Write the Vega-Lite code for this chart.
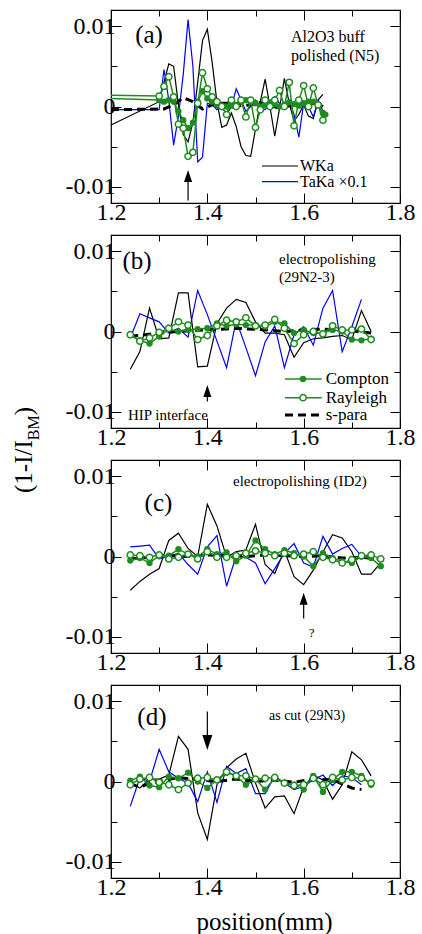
{
"$schema":"https://vega.github.io/schema/vega-lite/v6.json",
"autosize":{"type":"none"},
"padding":{"left":111,"top":10,"right":311,"bottom":924},
"bounds":"flush",
"spacing":32,
"config":{"view":{"stroke":"black","strokeWidth":1.2},"font":"Liberation Serif","style":{"guide-label":{"font":"Liberation Serif","fill":"black"},"guide-title":{"font":"Liberation Serif","fill":"black"}},"axis":{"labelFont":"Liberation Serif","labelFontSize":24,"labelColor":"black","tickColor":"black","tickWidth":1,"domain":false,"grid":false,"titleFont":"Liberation Serif","titleColor":"black","titleFontWeight":"normal"},"text":{"font":"Liberation Serif","color":"black"}},
"datasets":{"pts":[
{"p":"a","s":"W","x":1.20,"y":-0.0023},{"p":"a","s":"W","x":1.30,"y":0.0006},{"p":"a","s":"W","x":1.31,"y":0.003},{"p":"a","s":"W","x":1.32,"y":0.0053},{"p":"a","s":"W","x":1.33,"y":0.005},{"p":"a","s":"W","x":1.34,"y":0.0002},{"p":"a","s":"W","x":1.35,"y":-0.0035},{"p":"a","s":"W","x":1.36,"y":-0.0044},{"p":"a","s":"W","x":1.37,"y":-0.002},{"p":"a","s":"W","x":1.38,"y":0.003},{"p":"a","s":"W","x":1.39,"y":0.0082},{"p":"a","s":"W","x":1.40,"y":0.0096},{"p":"a","s":"W","x":1.41,"y":0.0055},{"p":"a","s":"W","x":1.42,"y":0.0005},{"p":"a","s":"W","x":1.43,"y":-0.0026},{"p":"a","s":"W","x":1.44,"y":-0.0023},{"p":"a","s":"W","x":1.45,"y":-0.0008},{"p":"a","s":"W","x":1.46,"y":-0.0025},{"p":"a","s":"W","x":1.47,"y":-0.005},{"p":"a","s":"W","x":1.48,"y":-0.0061},{"p":"a","s":"W","x":1.49,"y":-0.0062},{"p":"a","s":"W","x":1.50,"y":-0.0028},{"p":"a","s":"W","x":1.51,"y":0.0006},{"p":"a","s":"W","x":1.52,"y":0.0034},{"p":"a","s":"W","x":1.53,"y":0.0},{"p":"a","s":"W","x":1.54,"y":-0.0037},{"p":"a","s":"W","x":1.55,"y":-0.0002},{"p":"a","s":"W","x":1.56,"y":0.0035},{"p":"a","s":"W","x":1.57,"y":0.0004},{"p":"a","s":"W","x":1.58,"y":-0.0018},{"p":"a","s":"W","x":1.59,"y":-0.001},{"p":"a","s":"W","x":1.60,"y":0.0002},{"p":"a","s":"W","x":1.61,"y":-0.0012},{"p":"a","s":"W","x":1.62,"y":-0.0015},{"p":"a","s":"W","x":1.63,"y":0.0008},{"p":"a","s":"W","x":1.64,"y":0.0015},
{"p":"a","s":"T","x":1.20,"y":-0.0004},{"p":"a","s":"T","x":1.30,"y":-0.0004},{"p":"a","s":"T","x":1.31,"y":0.0046},{"p":"a","s":"T","x":1.32,"y":0.0008},{"p":"a","s":"T","x":1.33,"y":-0.0048},{"p":"a","s":"T","x":1.34,"y":-0.0012},{"p":"a","s":"T","x":1.35,"y":0.004},{"p":"a","s":"T","x":1.36,"y":0.0108},{"p":"a","s":"T","x":1.37,"y":0.005},{"p":"a","s":"T","x":1.38,"y":-0.0069},{"p":"a","s":"T","x":1.39,"y":-0.0063},{"p":"a","s":"T","x":1.40,"y":0.0004},{"p":"a","s":"T","x":1.41,"y":0.0002},{"p":"a","s":"T","x":1.42,"y":-0.0004},{"p":"a","s":"T","x":1.43,"y":0.0},{"p":"a","s":"T","x":1.44,"y":-0.001},{"p":"a","s":"T","x":1.45,"y":0.0},{"p":"a","s":"T","x":1.46,"y":0.0022},{"p":"a","s":"T","x":1.47,"y":0.0008},{"p":"a","s":"T","x":1.48,"y":-0.0006},{"p":"a","s":"T","x":1.49,"y":0.0},{"p":"a","s":"T","x":1.50,"y":0.0008},{"p":"a","s":"T","x":1.51,"y":0.0},{"p":"a","s":"T","x":1.52,"y":-0.0004},{"p":"a","s":"T","x":1.53,"y":0.0004},{"p":"a","s":"T","x":1.54,"y":0.0012},{"p":"a","s":"T","x":1.55,"y":0.0004},{"p":"a","s":"T","x":1.56,"y":0.0},{"p":"a","s":"T","x":1.57,"y":0.0008},{"p":"a","s":"T","x":1.58,"y":-0.001},{"p":"a","s":"T","x":1.59,"y":-0.0038},{"p":"a","s":"T","x":1.60,"y":0.0004},{"p":"a","s":"T","x":1.61,"y":0.0},{"p":"a","s":"T","x":1.62,"y":-0.0013},{"p":"a","s":"T","x":1.63,"y":0.0008},{"p":"a","s":"T","x":1.64,"y":-0.0006},
{"p":"a","s":"C","x":1.20,"y":0.001},{"p":"a","s":"C","x":1.30,"y":0.0008},{"p":"a","s":"C","x":1.31,"y":0.0006},{"p":"a","s":"C","x":1.32,"y":0.0008},{"p":"a","s":"C","x":1.33,"y":0.0006},{"p":"a","s":"C","x":1.34,"y":-0.0006},{"p":"a","s":"C","x":1.35,"y":-0.0017},{"p":"a","s":"C","x":1.36,"y":-0.0027},{"p":"a","s":"C","x":1.37,"y":-0.002},{"p":"a","s":"C","x":1.38,"y":0.0006},{"p":"a","s":"C","x":1.39,"y":0.0019},{"p":"a","s":"C","x":1.40,"y":0.001},{"p":"a","s":"C","x":1.41,"y":0.0006},{"p":"a","s":"C","x":1.42,"y":0.0002},{"p":"a","s":"C","x":1.43,"y":0.0},{"p":"a","s":"C","x":1.44,"y":0.0},{"p":"a","s":"C","x":1.45,"y":0.0001},{"p":"a","s":"C","x":1.46,"y":0.0002},{"p":"a","s":"C","x":1.47,"y":0.0006},{"p":"a","s":"C","x":1.48,"y":0.0008},{"p":"a","s":"C","x":1.49,"y":0.0006},{"p":"a","s":"C","x":1.50,"y":0.0004},{"p":"a","s":"C","x":1.51,"y":0.0},{"p":"a","s":"C","x":1.52,"y":0.0002},{"p":"a","s":"C","x":1.53,"y":0.0005},{"p":"a","s":"C","x":1.54,"y":0.0003},{"p":"a","s":"C","x":1.55,"y":0.0},{"p":"a","s":"C","x":1.56,"y":0.0002},{"p":"a","s":"C","x":1.57,"y":0.0005},{"p":"a","s":"C","x":1.58,"y":0.0003},{"p":"a","s":"C","x":1.59,"y":0.0001},{"p":"a","s":"C","x":1.60,"y":0.0004},{"p":"a","s":"C","x":1.61,"y":0.0006},{"p":"a","s":"C","x":1.62,"y":0.0006},{"p":"a","s":"C","x":1.63,"y":0.0002},{"p":"a","s":"C","x":1.64,"y":-0.0008},{"p":"a","s":"C","x":1.645,"y":-0.001},
{"p":"a","s":"R","x":1.20,"y":0.0014},{"p":"a","s":"R","x":1.30,"y":0.0013},{"p":"a","s":"R","x":1.31,"y":0.0025},{"p":"a","s":"R","x":1.32,"y":0.0037},{"p":"a","s":"R","x":1.33,"y":0.0012},{"p":"a","s":"R","x":1.34,"y":-0.0022},{"p":"a","s":"R","x":1.35,"y":-0.0027},{"p":"a","s":"R","x":1.36,"y":-0.0062},{"p":"a","s":"R","x":1.37,"y":-0.0057},{"p":"a","s":"R","x":1.38,"y":0.0004},{"p":"a","s":"R","x":1.39,"y":0.0042},{"p":"a","s":"R","x":1.40,"y":0.0022},{"p":"a","s":"R","x":1.41,"y":0.0012},{"p":"a","s":"R","x":1.42,"y":0.0006},{"p":"a","s":"R","x":1.43,"y":0.0},{"p":"a","s":"R","x":1.44,"y":-0.001},{"p":"a","s":"R","x":1.45,"y":0.0008},{"p":"a","s":"R","x":1.46,"y":0.0},{"p":"a","s":"R","x":1.47,"y":0.0008},{"p":"a","s":"R","x":1.48,"y":-0.0013},{"p":"a","s":"R","x":1.49,"y":0.0008},{"p":"a","s":"R","x":1.50,"y":-0.0026},{"p":"a","s":"R","x":1.51,"y":-0.0004},{"p":"a","s":"R","x":1.52,"y":0.0008},{"p":"a","s":"R","x":1.53,"y":0.0},{"p":"a","s":"R","x":1.54,"y":0.0008},{"p":"a","s":"R","x":1.55,"y":0.002},{"p":"a","s":"R","x":1.56,"y":0.0},{"p":"a","s":"R","x":1.57,"y":0.003},{"p":"a","s":"R","x":1.58,"y":-0.0024},{"p":"a","s":"R","x":1.59,"y":0.0008},{"p":"a","s":"R","x":1.60,"y":0.0026},{"p":"a","s":"R","x":1.61,"y":0.0},{"p":"a","s":"R","x":1.62,"y":0.0023},{"p":"a","s":"R","x":1.63,"y":0.0002},{"p":"a","s":"R","x":1.64,"y":-0.0017},
{"p":"a","s":"S","x":1.20,"y":-0.0004},{"p":"a","s":"S","x":1.31,"y":-0.0003},{"p":"a","s":"S","x":1.33,"y":0.0002},{"p":"a","s":"S","x":1.35,"y":0.0011},{"p":"a","s":"S","x":1.37,"y":0.0006},{"p":"a","s":"S","x":1.39,"y":-0.0003},{"p":"a","s":"S","x":1.41,"y":0.0002},{"p":"a","s":"S","x":1.43,"y":0.0004},{"p":"a","s":"S","x":1.45,"y":0.0004},{"p":"a","s":"S","x":1.47,"y":0.0001},{"p":"a","s":"S","x":1.49,"y":0.0002},{"p":"a","s":"S","x":1.51,"y":0.0005},{"p":"a","s":"S","x":1.53,"y":0.0001},{"p":"a","s":"S","x":1.55,"y":-0.0002},{"p":"a","s":"S","x":1.57,"y":0.0001},{"p":"a","s":"S","x":1.59,"y":0.0004},{"p":"a","s":"S","x":1.61,"y":0.0003},{"p":"a","s":"S","x":1.63,"y":0.0004},{"p":"a","s":"S","x":1.64,"y":0.0},
{"p":"b","s":"W","x":1.24,"y":-0.0047},{"p":"b","s":"W","x":1.26,"y":-0.0025},{"p":"b","s":"W","x":1.28,"y":0.0029},{"p":"b","s":"W","x":1.30,"y":-0.0009},{"p":"b","s":"W","x":1.32,"y":-0.0008},{"p":"b","s":"W","x":1.34,"y":0.0048},{"p":"b","s":"W","x":1.36,"y":0.0048},{"p":"b","s":"W","x":1.38,"y":-0.0044},{"p":"b","s":"W","x":1.40,"y":-0.0043},{"p":"b","s":"W","x":1.42,"y":0.001},{"p":"b","s":"W","x":1.44,"y":0.0029},{"p":"b","s":"W","x":1.46,"y":0.004},{"p":"b","s":"W","x":1.48,"y":0.0036},{"p":"b","s":"W","x":1.50,"y":0.0012},{"p":"b","s":"W","x":1.52,"y":-0.0002},{"p":"b","s":"W","x":1.54,"y":-0.0002},{"p":"b","s":"W","x":1.56,"y":-0.0004},{"p":"b","s":"W","x":1.58,"y":-0.0032},{"p":"b","s":"W","x":1.60,"y":-0.0014},{"p":"b","s":"W","x":1.62,"y":-0.0009},{"p":"b","s":"W","x":1.64,"y":-0.0008},{"p":"b","s":"W","x":1.66,"y":-0.0006},{"p":"b","s":"W","x":1.68,"y":-0.0005},{"p":"b","s":"W","x":1.70,"y":-0.001},{"p":"b","s":"W","x":1.72,"y":0.0026},{"p":"b","s":"W","x":1.74,"y":0.0},
{"p":"b","s":"T","x":1.24,"y":-0.0008},{"p":"b","s":"T","x":1.26,"y":0.0022},{"p":"b","s":"T","x":1.28,"y":0.0017},{"p":"b","s":"T","x":1.30,"y":0.0012},{"p":"b","s":"T","x":1.32,"y":-0.0002},{"p":"b","s":"T","x":1.34,"y":0.0004},{"p":"b","s":"T","x":1.36,"y":-0.0007},{"p":"b","s":"T","x":1.38,"y":0.0051},{"p":"b","s":"T","x":1.40,"y":0.0021},{"p":"b","s":"T","x":1.42,"y":-0.0012},{"p":"b","s":"T","x":1.44,"y":-0.0045},{"p":"b","s":"T","x":1.46,"y":0.0014},{"p":"b","s":"T","x":1.48,"y":-0.002},{"p":"b","s":"T","x":1.50,"y":-0.0055},{"p":"b","s":"T","x":1.52,"y":-0.0013},{"p":"b","s":"T","x":1.54,"y":0.0007},{"p":"b","s":"T","x":1.56,"y":-0.0045},{"p":"b","s":"T","x":1.58,"y":-0.0004},{"p":"b","s":"T","x":1.60,"y":0.0006},{"p":"b","s":"T","x":1.62,"y":-0.0017},{"p":"b","s":"T","x":1.64,"y":0.0029},{"p":"b","s":"T","x":1.66,"y":0.0051},{"p":"b","s":"T","x":1.68,"y":-0.0025},{"p":"b","s":"T","x":1.70,"y":0.0006},{"p":"b","s":"T","x":1.72,"y":0.004},
{"p":"b","s":"C","x":1.24,"y":-0.0004},{"p":"b","s":"C","x":1.26,"y":-0.0011},{"p":"b","s":"C","x":1.28,"y":-0.0015},{"p":"b","s":"C","x":1.30,"y":-0.0006},{"p":"b","s":"C","x":1.32,"y":0.0003},{"p":"b","s":"C","x":1.34,"y":0.0},{"p":"b","s":"C","x":1.36,"y":0.0002},{"p":"b","s":"C","x":1.38,"y":0.0003},{"p":"b","s":"C","x":1.40,"y":0.0004},{"p":"b","s":"C","x":1.42,"y":0.001},{"p":"b","s":"C","x":1.44,"y":0.0007},{"p":"b","s":"C","x":1.46,"y":0.0009},{"p":"b","s":"C","x":1.48,"y":0.0008},{"p":"b","s":"C","x":1.50,"y":0.0008},{"p":"b","s":"C","x":1.52,"y":0.0006},{"p":"b","s":"C","x":1.54,"y":0.0012},{"p":"b","s":"C","x":1.56,"y":0.001},{"p":"b","s":"C","x":1.58,"y":-0.0002},{"p":"b","s":"C","x":1.60,"y":0.0002},{"p":"b","s":"C","x":1.62,"y":-0.0002},{"p":"b","s":"C","x":1.64,"y":-0.0002},{"p":"b","s":"C","x":1.66,"y":0.0002},{"p":"b","s":"C","x":1.68,"y":0.0},{"p":"b","s":"C","x":1.70,"y":-0.001},{"p":"b","s":"C","x":1.72,"y":-0.0011},{"p":"b","s":"C","x":1.74,"y":-0.0009},
{"p":"b","s":"R","x":1.24,"y":-0.0004},{"p":"b","s":"R","x":1.26,"y":-0.0012},{"p":"b","s":"R","x":1.28,"y":-0.0008},{"p":"b","s":"R","x":1.30,"y":-0.0001},{"p":"b","s":"R","x":1.32,"y":0.0004},{"p":"b","s":"R","x":1.34,"y":0.0012},{"p":"b","s":"R","x":1.36,"y":0.0008},{"p":"b","s":"R","x":1.38,"y":-0.001},{"p":"b","s":"R","x":1.40,"y":-0.0005},{"p":"b","s":"R","x":1.42,"y":0.0007},{"p":"b","s":"R","x":1.44,"y":0.0014},{"p":"b","s":"R","x":1.46,"y":0.0012},{"p":"b","s":"R","x":1.48,"y":0.0017},{"p":"b","s":"R","x":1.50,"y":0.0007},{"p":"b","s":"R","x":1.52,"y":0.0008},{"p":"b","s":"R","x":1.54,"y":0.0015},{"p":"b","s":"R","x":1.56,"y":0.0004},{"p":"b","s":"R","x":1.58,"y":-0.0015},{"p":"b","s":"R","x":1.60,"y":-0.0004},{"p":"b","s":"R","x":1.62,"y":0.0},{"p":"b","s":"R","x":1.64,"y":-0.0003},{"p":"b","s":"R","x":1.66,"y":0.0007},{"p":"b","s":"R","x":1.68,"y":0.0002},{"p":"b","s":"R","x":1.70,"y":0.0002},{"p":"b","s":"R","x":1.72,"y":0.0003},{"p":"b","s":"R","x":1.74,"y":-0.001},
{"p":"b","s":"S","x":1.24,"y":-0.0006},{"p":"b","s":"S","x":1.30,"y":-0.0002},{"p":"b","s":"S","x":1.36,"y":0.0001},{"p":"b","s":"S","x":1.40,"y":0.0002},{"p":"b","s":"S","x":1.46,"y":0.0004},{"p":"b","s":"S","x":1.52,"y":0.0002},{"p":"b","s":"S","x":1.56,"y":0.0},{"p":"b","s":"S","x":1.60,"y":0.0002},{"p":"b","s":"S","x":1.64,"y":0.0003},{"p":"b","s":"S","x":1.68,"y":0.0002},{"p":"b","s":"S","x":1.74,"y":-0.0002},
{"p":"c","s":"W","x":1.24,"y":-0.0042},{"p":"c","s":"W","x":1.26,"y":-0.0031},{"p":"c","s":"W","x":1.28,"y":-0.0022},{"p":"c","s":"W","x":1.30,"y":-0.0015},{"p":"c","s":"W","x":1.32,"y":0.002},{"p":"c","s":"W","x":1.34,"y":0.0029},{"p":"c","s":"W","x":1.36,"y":0.001},{"p":"c","s":"W","x":1.38,"y":0.0},{"p":"c","s":"W","x":1.40,"y":0.0065},{"p":"c","s":"W","x":1.42,"y":0.0038},{"p":"c","s":"W","x":1.44,"y":-0.0001},{"p":"c","s":"W","x":1.46,"y":0.0006},{"p":"c","s":"W","x":1.48,"y":0.0008},{"p":"c","s":"W","x":1.50,"y":0.004},{"p":"c","s":"W","x":1.52,"y":-0.001},{"p":"c","s":"W","x":1.54,"y":-0.0021},{"p":"c","s":"W","x":1.56,"y":0.0008},{"p":"c","s":"W","x":1.58,"y":-0.0025},{"p":"c","s":"W","x":1.60,"y":-0.0035},{"p":"c","s":"W","x":1.62,"y":-0.0017},{"p":"c","s":"W","x":1.64,"y":0.0006},{"p":"c","s":"W","x":1.66,"y":0.0027},{"p":"c","s":"W","x":1.68,"y":0.0023},{"p":"c","s":"W","x":1.70,"y":0.0006},{"p":"c","s":"W","x":1.72,"y":-0.0022},{"p":"c","s":"W","x":1.74,"y":-0.0022},{"p":"c","s":"W","x":1.76,"y":-0.0008},
{"p":"c","s":"T","x":1.24,"y":0.0012},{"p":"c","s":"T","x":1.26,"y":0.0013},{"p":"c","s":"T","x":1.28,"y":0.0014},{"p":"c","s":"T","x":1.30,"y":-0.0003},{"p":"c","s":"T","x":1.32,"y":0.0},{"p":"c","s":"T","x":1.34,"y":0.0004},{"p":"c","s":"T","x":1.36,"y":-0.001},{"p":"c","s":"T","x":1.38,"y":-0.0022},{"p":"c","s":"T","x":1.40,"y":0.0012},{"p":"c","s":"T","x":1.42,"y":0.0026},{"p":"c","s":"T","x":1.44,"y":-0.0037},{"p":"c","s":"T","x":1.46,"y":0.0001},{"p":"c","s":"T","x":1.48,"y":-0.0001},{"p":"c","s":"T","x":1.50,"y":-0.0008},{"p":"c","s":"T","x":1.52,"y":-0.0034},{"p":"c","s":"T","x":1.54,"y":-0.0015},{"p":"c","s":"T","x":1.56,"y":0.0004},{"p":"c","s":"T","x":1.58,"y":0.0016},{"p":"c","s":"T","x":1.60,"y":-0.0008},{"p":"c","s":"T","x":1.62,"y":-0.0013},{"p":"c","s":"T","x":1.64,"y":0.0025},{"p":"c","s":"T","x":1.66,"y":0.0003},{"p":"c","s":"T","x":1.68,"y":0.001},{"p":"c","s":"T","x":1.70,"y":0.0015},{"p":"c","s":"T","x":1.72,"y":0.0},
{"p":"c","s":"C","x":1.24,"y":-0.0005},{"p":"c","s":"C","x":1.26,"y":-0.0002},{"p":"c","s":"C","x":1.28,"y":-0.0008},{"p":"c","s":"C","x":1.30,"y":0.0001},{"p":"c","s":"C","x":1.32,"y":0.0001},{"p":"c","s":"C","x":1.34,"y":0.0009},{"p":"c","s":"C","x":1.36,"y":0.0003},{"p":"c","s":"C","x":1.38,"y":0.0},{"p":"c","s":"C","x":1.40,"y":0.0009},{"p":"c","s":"C","x":1.42,"y":0.0003},{"p":"c","s":"C","x":1.44,"y":0.0005},{"p":"c","s":"C","x":1.46,"y":-0.0006},{"p":"c","s":"C","x":1.48,"y":0.0001},{"p":"c","s":"C","x":1.50,"y":0.002},{"p":"c","s":"C","x":1.52,"y":0.0009},{"p":"c","s":"C","x":1.54,"y":0.0003},{"p":"c","s":"C","x":1.56,"y":0.0008},{"p":"c","s":"C","x":1.58,"y":0.0004},{"p":"c","s":"C","x":1.60,"y":0.0},{"p":"c","s":"C","x":1.62,"y":-0.0012},{"p":"c","s":"C","x":1.64,"y":0.0004},{"p":"c","s":"C","x":1.66,"y":-0.0002},{"p":"c","s":"C","x":1.68,"y":-0.0006},{"p":"c","s":"C","x":1.70,"y":-0.0008},{"p":"c","s":"C","x":1.72,"y":0.0},{"p":"c","s":"C","x":1.74,"y":-0.0002},{"p":"c","s":"C","x":1.76,"y":-0.0012},
{"p":"c","s":"R","x":1.24,"y":0.0002},{"p":"c","s":"R","x":1.26,"y":0.0001},{"p":"c","s":"R","x":1.28,"y":-0.0001},{"p":"c","s":"R","x":1.30,"y":0.0002},{"p":"c","s":"R","x":1.32,"y":-0.0003},{"p":"c","s":"R","x":1.34,"y":-0.0001},{"p":"c","s":"R","x":1.36,"y":0.0003},{"p":"c","s":"R","x":1.38,"y":-0.0003},{"p":"c","s":"R","x":1.40,"y":0.0006},{"p":"c","s":"R","x":1.42,"y":-0.0001},{"p":"c","s":"R","x":1.44,"y":-0.0001},{"p":"c","s":"R","x":1.46,"y":0.0001},{"p":"c","s":"R","x":1.48,"y":0.0004},{"p":"c","s":"R","x":1.50,"y":0.0007},{"p":"c","s":"R","x":1.52,"y":0.0004},{"p":"c","s":"R","x":1.54,"y":0.0001},{"p":"c","s":"R","x":1.56,"y":0.0004},{"p":"c","s":"R","x":1.58,"y":0.0001},{"p":"c","s":"R","x":1.60,"y":0.0003},{"p":"c","s":"R","x":1.62,"y":0.0006},{"p":"c","s":"R","x":1.64,"y":-0.0001},{"p":"c","s":"R","x":1.66,"y":-0.0004},{"p":"c","s":"R","x":1.68,"y":-0.0008},{"p":"c","s":"R","x":1.70,"y":-0.0004},{"p":"c","s":"R","x":1.72,"y":0.0001},{"p":"c","s":"R","x":1.74,"y":0.0002},{"p":"c","s":"R","x":1.76,"y":-0.0003},
{"p":"c","s":"S","x":1.24,"y":-0.0003},{"p":"c","s":"S","x":1.28,"y":-0.0001},{"p":"c","s":"S","x":1.32,"y":0.0001},{"p":"c","s":"S","x":1.36,"y":0.0},{"p":"c","s":"S","x":1.40,"y":0.0002},{"p":"c","s":"S","x":1.44,"y":0.0001},{"p":"c","s":"S","x":1.48,"y":0.0},{"p":"c","s":"S","x":1.52,"y":0.0002},{"p":"c","s":"S","x":1.56,"y":0.0001},{"p":"c","s":"S","x":1.60,"y":0.0},{"p":"c","s":"S","x":1.64,"y":0.0001},{"p":"c","s":"S","x":1.68,"y":-0.0002},{"p":"c","s":"S","x":1.72,"y":-0.0001},{"p":"c","s":"S","x":1.76,"y":-0.0003},
{"p":"d","s":"W","x":1.24,"y":-0.0001},{"p":"d","s":"W","x":1.26,"y":-0.0008},{"p":"d","s":"W","x":1.28,"y":0.0003},{"p":"d","s":"W","x":1.30,"y":0.0003},{"p":"d","s":"W","x":1.32,"y":0.0008},{"p":"d","s":"W","x":1.34,"y":0.0056},{"p":"d","s":"W","x":1.36,"y":0.004},{"p":"d","s":"W","x":1.38,"y":-0.0039},{"p":"d","s":"W","x":1.40,"y":-0.0072},{"p":"d","s":"W","x":1.42,"y":-0.0004},{"p":"d","s":"W","x":1.44,"y":0.0017},{"p":"d","s":"W","x":1.46,"y":0.0028},{"p":"d","s":"W","x":1.48,"y":0.0035},{"p":"d","s":"W","x":1.50,"y":-0.0002},{"p":"d","s":"W","x":1.52,"y":-0.0033},{"p":"d","s":"W","x":1.54,"y":-0.0019},{"p":"d","s":"W","x":1.56,"y":-0.0018},{"p":"d","s":"W","x":1.58,"y":-0.004},{"p":"d","s":"W","x":1.60,"y":-0.0007},{"p":"d","s":"W","x":1.62,"y":0.0008},{"p":"d","s":"W","x":1.64,"y":0.0002},{"p":"d","s":"W","x":1.66,"y":-0.0022},{"p":"d","s":"W","x":1.68,"y":-0.0004},{"p":"d","s":"W","x":1.70,"y":0.0037},{"p":"d","s":"W","x":1.72,"y":0.0027},{"p":"d","s":"W","x":1.74,"y":0.0007},
{"p":"d","s":"T","x":1.24,"y":-0.0031},{"p":"d","s":"T","x":1.26,"y":0.0005},{"p":"d","s":"T","x":1.28,"y":0.0},{"p":"d","s":"T","x":1.30,"y":0.004},{"p":"d","s":"T","x":1.32,"y":0.0012},{"p":"d","s":"T","x":1.34,"y":0.0004},{"p":"d","s":"T","x":1.36,"y":-0.0002},{"p":"d","s":"T","x":1.38,"y":-0.0025},{"p":"d","s":"T","x":1.40,"y":0.0012},{"p":"d","s":"T","x":1.42,"y":-0.0026},{"p":"d","s":"T","x":1.44,"y":0.0019},{"p":"d","s":"T","x":1.46,"y":0.001},{"p":"d","s":"T","x":1.48,"y":0.0016},{"p":"d","s":"T","x":1.50,"y":-0.0015},{"p":"d","s":"T","x":1.52,"y":-0.0015},{"p":"d","s":"T","x":1.54,"y":0.0007},{"p":"d","s":"T","x":1.56,"y":-0.0002},{"p":"d","s":"T","x":1.58,"y":-0.001},{"p":"d","s":"T","x":1.60,"y":-0.0006},{"p":"d","s":"T","x":1.62,"y":0.0002},{"p":"d","s":"T","x":1.64,"y":0.0008},{"p":"d","s":"T","x":1.66,"y":-0.0005},{"p":"d","s":"T","x":1.68,"y":0.0007},{"p":"d","s":"T","x":1.70,"y":0.0005},{"p":"d","s":"T","x":1.72,"y":-0.0004},
{"p":"d","s":"C","x":1.24,"y":0.0001},{"p":"d","s":"C","x":1.26,"y":0.0006},{"p":"d","s":"C","x":1.28,"y":-0.0005},{"p":"d","s":"C","x":1.30,"y":-0.0007},{"p":"d","s":"C","x":1.32,"y":0.0006},{"p":"d","s":"C","x":1.34,"y":0.0004},{"p":"d","s":"C","x":1.36,"y":0.0011},{"p":"d","s":"C","x":1.38,"y":0.0},{"p":"d","s":"C","x":1.40,"y":-0.0008},{"p":"d","s":"C","x":1.42,"y":0.0002},{"p":"d","s":"C","x":1.44,"y":0.0011},{"p":"d","s":"C","x":1.46,"y":0.0007},{"p":"d","s":"C","x":1.48,"y":-0.0004},{"p":"d","s":"C","x":1.50,"y":0.0003},{"p":"d","s":"C","x":1.52,"y":-0.001},{"p":"d","s":"C","x":1.54,"y":0.0004},{"p":"d","s":"C","x":1.56,"y":-0.0002},{"p":"d","s":"C","x":1.58,"y":-0.0004},{"p":"d","s":"C","x":1.60,"y":-0.001},{"p":"d","s":"C","x":1.62,"y":0.0007},{"p":"d","s":"C","x":1.64,"y":-0.0013},{"p":"d","s":"C","x":1.66,"y":0.0002},{"p":"d","s":"C","x":1.68,"y":0.0012},{"p":"d","s":"C","x":1.70,"y":0.0012},{"p":"d","s":"C","x":1.72,"y":0.0007},{"p":"d","s":"C","x":1.74,"y":-0.0004},
{"p":"d","s":"R","x":1.24,"y":-0.0004},{"p":"d","s":"R","x":1.26,"y":0.0003},{"p":"d","s":"R","x":1.28,"y":0.0005},{"p":"d","s":"R","x":1.30,"y":-0.0001},{"p":"d","s":"R","x":1.32,"y":-0.0004},{"p":"d","s":"R","x":1.34,"y":-0.001},{"p":"d","s":"R","x":1.36,"y":-0.0002},{"p":"d","s":"R","x":1.38,"y":0.0004},{"p":"d","s":"R","x":1.40,"y":0.0005},{"p":"d","s":"R","x":1.42,"y":0.0002},{"p":"d","s":"R","x":1.44,"y":0.0012},{"p":"d","s":"R","x":1.46,"y":0.0007},{"p":"d","s":"R","x":1.48,"y":0.0007},{"p":"d","s":"R","x":1.50,"y":0.0003},{"p":"d","s":"R","x":1.52,"y":0.0004},{"p":"d","s":"R","x":1.54,"y":0.0005},{"p":"d","s":"R","x":1.56,"y":-0.0002},{"p":"d","s":"R","x":1.58,"y":-0.0005},{"p":"d","s":"R","x":1.60,"y":-0.0004},{"p":"d","s":"R","x":1.62,"y":0.0004},{"p":"d","s":"R","x":1.64,"y":-0.0004},{"p":"d","s":"R","x":1.66,"y":0.0005},{"p":"d","s":"R","x":1.68,"y":0.0002},{"p":"d","s":"R","x":1.70,"y":0.0005},{"p":"d","s":"R","x":1.72,"y":0.0004},{"p":"d","s":"R","x":1.74,"y":-0.0002},
{"p":"d","s":"S","x":1.24,"y":-0.0003},{"p":"d","s":"S","x":1.26,"y":-0.0007},{"p":"d","s":"S","x":1.28,"y":-0.0002},{"p":"d","s":"S","x":1.30,"y":0.0},{"p":"d","s":"S","x":1.34,"y":0.0005},{"p":"d","s":"S","x":1.38,"y":0.0002},{"p":"d","s":"S","x":1.42,"y":0.0},{"p":"d","s":"S","x":1.46,"y":0.0003},{"p":"d","s":"S","x":1.50,"y":0.0},{"p":"d","s":"S","x":1.54,"y":0.0002},{"p":"d","s":"S","x":1.58,"y":-0.0001},{"p":"d","s":"S","x":1.62,"y":0.0003},{"p":"d","s":"S","x":1.66,"y":0.0002},{"p":"d","s":"S","x":1.70,"y":-0.0008},{"p":"d","s":"S","x":1.72,"y":-0.001}
]},
"vconcat":[
{"width":289,"height":193,"resolve":{"axis":{"x":"independent","y":"independent"}},
"layer":[
{"data":{"name":"pts"},"transform":[{"filter":"datum.p=='a' && datum.s=='W'"}],"mark":{"type":"line","color":"black","strokeWidth":1.2},
"encoding":{"x":{"field":"x","type":"quantitative","scale":{"domain":[1.2,1.8],"nice":false,"zero":false},"axis":{"orient":"bottom","values":[1.2,1.3,1.4,1.5,1.6,1.7,1.8],"labelExpr":"round(datum.value*10)%2==0 ? format(datum.value,'.1f') : ''","tickSize":{"condition":{"test":"round(datum.value*10)%2==0","value":-10},"value":-6},"labelPadding":7,"labelFont":"Liberation Serif","labelFontSize":24,"labelFlush":false,"labelOverlap":false,"labelBound":false,"title":null}},
"y":{"field":"y","type":"quantitative","scale":{"domain":[-0.012,0.012],"nice":false,"zero":false},"axis":{"orient":"left","values":[-0.01,-0.005,0,0.005,0.01],"labelExpr":"datum.value > 0.007 ? '0.01' : datum.value < -0.007 ? '-0.01' : datum.value == 0 ? '0' : ''","tickSize":{"condition":{"test":"abs(datum.value) > 0.007 || datum.value == 0","value":-10},"value":-6},"labelPadding":6,"labelFont":"Liberation Serif","labelFontSize":24,"labelFlush":false,"labelOverlap":false,"labelBound":false,"title":null}}}},
{"data":{"name":"pts"},"transform":[{"filter":"datum.p=='a' && datum.s=='T'"}],"mark":{"type":"line","color":"#0000ff","strokeWidth":1.2},
"encoding":{"x":{"field":"x","type":"quantitative","scale":{"domain":[1.2,1.8],"nice":false,"zero":false},"axis":{"orient":"top","values":[1.2,1.3,1.4,1.5,1.6,1.7,1.8],"labels":false,"tickSize":{"condition":{"test":"round(datum.value*10)%2==0","value":-10},"value":-6},"title":null}},
"y":{"field":"y","type":"quantitative","scale":{"domain":[-0.012,0.012],"nice":false,"zero":false},"axis":{"orient":"right","values":[-0.01,-0.005,0,0.005,0.01],"labels":false,"tickSize":{"condition":{"test":"abs(datum.value) > 0.007 || datum.value == 0","value":-10},"value":-6},"title":null}}}},
{"data":{"name":"pts"},"transform":[{"filter":"datum.p=='a' && datum.s=='S'"}],"mark":{"type":"line","color":"black","strokeWidth":3,"strokeDash":[8,5]},"encoding":{"x":{"field":"x","type":"quantitative","axis":null},"y":{"field":"y","type":"quantitative","axis":null}}},
{"data":{"name":"pts"},"transform":[{"filter":"datum.p=='a' && datum.s=='C'"}],"mark":{"type":"line","color":"#1e8c1e","strokeWidth":1.5},"encoding":{"x":{"field":"x","type":"quantitative","axis":null},"y":{"field":"y","type":"quantitative","axis":null}}},
{"data":{"name":"pts"},"transform":[{"filter":"datum.p=='a' && datum.s=='C' && datum.x > 1.25"}],"mark":{"type":"point","shape":"circle","filled":true,"color":"#1e8c1e","opacity":1,"size":40},"encoding":{"x":{"field":"x","type":"quantitative","axis":null},"y":{"field":"y","type":"quantitative","axis":null}}},
{"data":{"name":"pts"},"transform":[{"filter":"datum.p=='a' && datum.s=='R'"}],"mark":{"type":"line","color":"#1e8c1e","strokeWidth":1.5},"encoding":{"x":{"field":"x","type":"quantitative","axis":null},"y":{"field":"y","type":"quantitative","axis":null}}},
{"data":{"name":"pts"},"transform":[{"filter":"datum.p=='a' && datum.s=='R' && datum.x > 1.25"}],"mark":{"type":"point","shape":"circle","filled":true,"fill":"white","stroke":"#1e8c1e","strokeWidth":1.5,"opacity":1,"size":40},"encoding":{"x":{"field":"x","type":"quantitative","axis":null},"y":{"field":"y","type":"quantitative","axis":null}}},
{"data":{"values":[{}]},"mark":{"type":"text","text":"(a)","font":"Liberation Serif","color":"black","fontSize":25,"align":"center","baseline":"middle"},"encoding":{"x":{"datum":1.279,"axis":null},"y":{"datum":0.0089,"axis":null}}},
{"data":{"values":[{}]},"mark":{"type":"text","text":"Al2O3 buff","font":"Liberation Serif","color":"black","fontSize":16,"align":"left","baseline":"alphabetic"},"encoding":{"x":{"datum":1.5737,"axis":null},"y":{"datum":0.008,"axis":null}}},
{"data":{"values":[{}]},"mark":{"type":"text","text":"polished (N5)","font":"Liberation Serif","color":"black","fontSize":16,"align":"left","baseline":"alphabetic"},"encoding":{"x":{"datum":1.5737,"axis":null},"y":{"datum":0.00566,"axis":null}}},
{"data":{"values":[{}]},"mark":{"type":"rule","color":"black","strokeWidth":1.2},"encoding":{"x":{"datum":1.5135,"axis":null},"x2":{"datum":1.5882},"y":{"datum":-0.0074,"axis":null}}},
{"data":{"values":[{}]},"mark":{"type":"rule","color":"#0000ff","strokeWidth":1.2},"encoding":{"x":{"datum":1.5135,"axis":null},"x2":{"datum":1.5882},"y":{"datum":-0.00933,"axis":null}}},
{"data":{"values":[{}]},"mark":{"type":"text","text":"WKa","font":"Liberation Serif","color":"black","fontSize":16,"align":"left","baseline":"middle"},"encoding":{"x":{"datum":1.5924,"axis":null},"y":{"datum":-0.0074,"axis":null}}},
{"data":{"values":[{}]},"mark":{"type":"text","text":"TaKa ×0.1","font":"Liberation Serif","color":"black","fontSize":16,"align":"left","baseline":"middle"},"encoding":{"x":{"datum":1.5924,"axis":null},"y":{"datum":-0.00933,"axis":null}}},
{"data":{"values":[{}]},"mark":{"type":"rule","color":"black","strokeWidth":1.2},"encoding":{"x":{"datum":1.36,"axis":null},"y":{"datum":-0.0117,"axis":null},"y2":{"datum":-0.0085}}},
{"data":{"values":[{}]},"mark":{"type":"point","shape":"M0,-1L0.67,1L-0.67,1Z","filled":true,"color":"black","opacity":1,"size":144},"encoding":{"x":{"datum":1.36,"axis":null},"y":{"datum":-0.00864,"axis":null}}}
]},
{"width":289,"height":193,"resolve":{"axis":{"x":"independent","y":"independent"}},
"layer":[
{"data":{"name":"pts"},"transform":[{"filter":"datum.p=='b' && datum.s=='W'"}],"mark":{"type":"line","color":"black","strokeWidth":1.2},
"encoding":{"x":{"field":"x","type":"quantitative","scale":{"domain":[1.2,1.8],"nice":false,"zero":false},"axis":{"orient":"bottom","values":[1.2,1.3,1.4,1.5,1.6,1.7,1.8],"labelExpr":"round(datum.value*10)%2==0 ? format(datum.value,'.1f') : ''","tickSize":{"condition":{"test":"round(datum.value*10)%2==0","value":-10},"value":-6},"labelPadding":7,"labelFont":"Liberation Serif","labelFontSize":24,"labelFlush":false,"labelOverlap":false,"labelBound":false,"title":null}},
"y":{"field":"y","type":"quantitative","scale":{"domain":[-0.012,0.012],"nice":false,"zero":false},"axis":{"orient":"left","values":[-0.01,-0.005,0,0.005,0.01],"labelExpr":"datum.value > 0.007 ? '0.01' : datum.value < -0.007 ? '-0.01' : datum.value == 0 ? '0' : ''","tickSize":{"condition":{"test":"abs(datum.value) > 0.007 || datum.value == 0","value":-10},"value":-6},"labelPadding":6,"labelFont":"Liberation Serif","labelFontSize":24,"labelFlush":false,"labelOverlap":false,"labelBound":false,"title":null}}}},
{"data":{"name":"pts"},"transform":[{"filter":"datum.p=='b' && datum.s=='T'"}],"mark":{"type":"line","color":"#0000ff","strokeWidth":1.2},
"encoding":{"x":{"field":"x","type":"quantitative","scale":{"domain":[1.2,1.8],"nice":false,"zero":false},"axis":{"orient":"top","values":[1.2,1.3,1.4,1.5,1.6,1.7,1.8],"labels":false,"tickSize":{"condition":{"test":"round(datum.value*10)%2==0","value":-10},"value":-6},"title":null}},
"y":{"field":"y","type":"quantitative","scale":{"domain":[-0.012,0.012],"nice":false,"zero":false},"axis":{"orient":"right","values":[-0.01,-0.005,0,0.005,0.01],"labels":false,"tickSize":{"condition":{"test":"abs(datum.value) > 0.007 || datum.value == 0","value":-10},"value":-6},"title":null}}}},
{"data":{"name":"pts"},"transform":[{"filter":"datum.p=='b' && datum.s=='S'"}],"mark":{"type":"line","color":"black","strokeWidth":3,"strokeDash":[8,5]},"encoding":{"x":{"field":"x","type":"quantitative","axis":null},"y":{"field":"y","type":"quantitative","axis":null}}},
{"data":{"name":"pts"},"transform":[{"filter":"datum.p=='b' && datum.s=='C'"}],"mark":{"type":"line","color":"#1e8c1e","strokeWidth":1.5,"point":{"filled":true,"color":"#1e8c1e","opacity":1,"size":40}},"encoding":{"x":{"field":"x","type":"quantitative","axis":null},"y":{"field":"y","type":"quantitative","axis":null}}},
{"data":{"name":"pts"},"transform":[{"filter":"datum.p=='b' && datum.s=='R'"}],"mark":{"type":"line","color":"#1e8c1e","strokeWidth":1.5},"encoding":{"x":{"field":"x","type":"quantitative","axis":null},"y":{"field":"y","type":"quantitative","axis":null}}},
{"data":{"name":"pts"},"transform":[{"filter":"datum.p=='b' && datum.s=='R'"}],"mark":{"type":"point","shape":"circle","filled":true,"fill":"white","stroke":"#1e8c1e","strokeWidth":1.5,"opacity":1,"size":40},"encoding":{"x":{"field":"x","type":"quantitative","axis":null},"y":{"field":"y","type":"quantitative","axis":null}}},
{"data":{"values":[{}]},"mark":{"type":"text","text":"(b)","font":"Liberation Serif","color":"black","fontSize":25,"align":"center","baseline":"middle"},"encoding":{"x":{"datum":1.254,"axis":null},"y":{"datum":0.00877,"axis":null}}},
{"data":{"values":[{}]},"mark":{"type":"text","text":"electropolishing","font":"Liberation Serif","color":"black","fontSize":15,"align":"left","baseline":"alphabetic"},"encoding":{"x":{"datum":1.5488,"axis":null},"y":{"datum":0.00836,"axis":null}}},
{"data":{"values":[{}]},"mark":{"type":"text","text":"(29N2-3)","font":"Liberation Serif","color":"black","fontSize":15,"align":"left","baseline":"alphabetic"},"encoding":{"x":{"datum":1.5488,"axis":null},"y":{"datum":0.00619,"axis":null}}},
{"data":{"values":[{}]},"mark":{"type":"text","text":"HIP interface","font":"Liberation Serif","color":"black","fontSize":15,"align":"left","baseline":"alphabetic"},"encoding":{"x":{"datum":1.2353,"axis":null},"y":{"datum":-0.011,"axis":null}}},
{"data":{"values":[{}]},"mark":{"type":"rule","color":"black","strokeWidth":1.2},"encoding":{"x":{"datum":1.40,"axis":null},"y":{"datum":-0.0087,"axis":null},"y2":{"datum":-0.0072}}},
{"data":{"values":[{}]},"mark":{"type":"point","shape":"M0,-1L0.67,1L-0.67,1Z","filled":true,"color":"black","opacity":1,"size":144},"encoding":{"x":{"datum":1.40,"axis":null},"y":{"datum":-0.0074,"axis":null}}},
{"data":{"values":[{}]},"mark":{"type":"rule","color":"#1e8c1e","strokeWidth":1.5},"encoding":{"x":{"datum":1.5612,"axis":null},"x2":{"datum":1.6374},"y":{"datum":-0.00591,"axis":null}}},
{"data":{"values":[{}]},"mark":{"type":"point","shape":"circle","filled":true,"color":"#1e8c1e","opacity":1,"size":40},"encoding":{"x":{"datum":1.5986,"axis":null},"y":{"datum":-0.00591,"axis":null}}},
{"data":{"values":[{}]},"mark":{"type":"rule","color":"#1e8c1e","strokeWidth":1.5},"encoding":{"x":{"datum":1.5612,"axis":null},"x2":{"datum":1.6374},"y":{"datum":-0.00823,"axis":null}}},
{"data":{"values":[{}]},"mark":{"type":"point","shape":"circle","filled":true,"fill":"white","stroke":"#1e8c1e","strokeWidth":1.5,"opacity":1,"size":40},"encoding":{"x":{"datum":1.5986,"axis":null},"y":{"datum":-0.00823,"axis":null}}},
{"data":{"values":[{}]},"mark":{"type":"rule","color":"black","strokeWidth":3,"strokeDash":[8,5]},"encoding":{"x":{"datum":1.5612,"axis":null},"x2":{"datum":1.6374},"y":{"datum":-0.01038,"axis":null}}},
{"data":{"values":[{}]},"mark":{"type":"text","text":"Compton","font":"Liberation Serif","color":"black","fontSize":17,"align":"left","baseline":"middle"},"encoding":{"x":{"datum":1.6457,"axis":null},"y":{"datum":-0.00591,"axis":null}}},
{"data":{"values":[{}]},"mark":{"type":"text","text":"Rayleigh","font":"Liberation Serif","color":"black","fontSize":17,"align":"left","baseline":"middle"},"encoding":{"x":{"datum":1.6457,"axis":null},"y":{"datum":-0.00823,"axis":null}}},
{"data":{"values":[{}]},"mark":{"type":"text","text":"s-para","font":"Liberation Serif","color":"black","fontSize":17,"align":"left","baseline":"middle"},"encoding":{"x":{"datum":1.6457,"axis":null},"y":{"datum":-0.01038,"axis":null}}}
]},
{"width":289,"height":193,"resolve":{"axis":{"x":"independent","y":"independent"}},
"layer":[
{"data":{"name":"pts"},"transform":[{"filter":"datum.p=='c' && datum.s=='W'"}],"mark":{"type":"line","color":"black","strokeWidth":1.2},
"encoding":{"x":{"field":"x","type":"quantitative","scale":{"domain":[1.2,1.8],"nice":false,"zero":false},"axis":{"orient":"bottom","values":[1.2,1.3,1.4,1.5,1.6,1.7,1.8],"labelExpr":"round(datum.value*10)%2==0 ? format(datum.value,'.1f') : ''","tickSize":{"condition":{"test":"round(datum.value*10)%2==0","value":-10},"value":-6},"labelPadding":7,"labelFont":"Liberation Serif","labelFontSize":24,"labelFlush":false,"labelOverlap":false,"labelBound":false,"title":null}},
"y":{"field":"y","type":"quantitative","scale":{"domain":[-0.012,0.012],"nice":false,"zero":false},"axis":{"orient":"left","values":[-0.01,-0.005,0,0.005,0.01],"labelExpr":"datum.value > 0.007 ? '0.01' : datum.value < -0.007 ? '-0.01' : datum.value == 0 ? '0' : ''","tickSize":{"condition":{"test":"abs(datum.value) > 0.007 || datum.value == 0","value":-10},"value":-6},"labelPadding":6,"labelFont":"Liberation Serif","labelFontSize":24,"labelFlush":false,"labelOverlap":false,"labelBound":false,"title":null}}}},
{"data":{"name":"pts"},"transform":[{"filter":"datum.p=='c' && datum.s=='T'"}],"mark":{"type":"line","color":"#0000ff","strokeWidth":1.2},
"encoding":{"x":{"field":"x","type":"quantitative","scale":{"domain":[1.2,1.8],"nice":false,"zero":false},"axis":{"orient":"top","values":[1.2,1.3,1.4,1.5,1.6,1.7,1.8],"labels":false,"tickSize":{"condition":{"test":"round(datum.value*10)%2==0","value":-10},"value":-6},"title":null}},
"y":{"field":"y","type":"quantitative","scale":{"domain":[-0.012,0.012],"nice":false,"zero":false},"axis":{"orient":"right","values":[-0.01,-0.005,0,0.005,0.01],"labels":false,"tickSize":{"condition":{"test":"abs(datum.value) > 0.007 || datum.value == 0","value":-10},"value":-6},"title":null}}}},
{"data":{"name":"pts"},"transform":[{"filter":"datum.p=='c' && datum.s=='S'"}],"mark":{"type":"line","color":"black","strokeWidth":3,"strokeDash":[8,5]},"encoding":{"x":{"field":"x","type":"quantitative","axis":null},"y":{"field":"y","type":"quantitative","axis":null}}},
{"data":{"name":"pts"},"transform":[{"filter":"datum.p=='c' && datum.s=='C'"}],"mark":{"type":"line","color":"#1e8c1e","strokeWidth":1.5,"point":{"filled":true,"color":"#1e8c1e","opacity":1,"size":40}},"encoding":{"x":{"field":"x","type":"quantitative","axis":null},"y":{"field":"y","type":"quantitative","axis":null}}},
{"data":{"name":"pts"},"transform":[{"filter":"datum.p=='c' && datum.s=='R'"}],"mark":{"type":"line","color":"#1e8c1e","strokeWidth":1.5},"encoding":{"x":{"field":"x","type":"quantitative","axis":null},"y":{"field":"y","type":"quantitative","axis":null}}},
{"data":{"name":"pts"},"transform":[{"filter":"datum.p=='c' && datum.s=='R'"}],"mark":{"type":"point","shape":"circle","filled":true,"fill":"white","stroke":"#1e8c1e","strokeWidth":1.5,"opacity":1,"size":40},"encoding":{"x":{"field":"x","type":"quantitative","axis":null},"y":{"field":"y","type":"quantitative","axis":null}}},
{"data":{"values":[{}]},"mark":{"type":"text","text":"(c)","font":"Liberation Serif","color":"black","fontSize":25,"align":"center","baseline":"middle"},"encoding":{"x":{"datum":1.2986,"axis":null},"y":{"datum":0.00665,"axis":null}}},
{"data":{"values":[{}]},"mark":{"type":"text","text":"electropolishing (ID2)","font":"Liberation Serif","color":"black","fontSize":15,"align":"left","baseline":"alphabetic"},"encoding":{"x":{"datum":1.4533,"axis":null},"y":{"datum":0.00877,"axis":null}}},
{"data":{"values":[{}]},"mark":{"type":"text","text":"?","font":"Liberation Serif","color":"black","fontSize":13,"align":"center","baseline":"middle"},"encoding":{"x":{"datum":1.6167,"axis":null},"y":{"datum":-0.0095,"axis":null}}},
{"data":{"values":[{}]},"mark":{"type":"rule","color":"black","strokeWidth":1.2},"encoding":{"x":{"datum":1.60,"axis":null},"y":{"datum":-0.0077,"axis":null},"y2":{"datum":-0.0052}}},
{"data":{"values":[{}]},"mark":{"type":"point","shape":"M0,-1L0.67,1L-0.67,1Z","filled":true,"color":"black","opacity":1,"size":144},"encoding":{"x":{"datum":1.60,"axis":null},"y":{"datum":-0.00525,"axis":null}}},
{"data":{"values":[{}]},"mark":{"type":"text","text":"(1-I/I","font":"Liberation Serif","color":"black","fontSize":25,"angle":270,"align":"left","baseline":"alphabetic"},"encoding":{"x":{"datum":1.036,"axis":null},"y":{"datum":0.0079,"axis":null}}},
{"data":{"values":[{}]},"mark":{"type":"text","text":"BM","font":"Liberation Serif","color":"black","fontSize":16,"angle":270,"align":"left","baseline":"alphabetic"},"encoding":{"x":{"datum":1.0505,"axis":null},"y":{"datum":0.01446,"axis":null}}},
{"data":{"values":[{}]},"mark":{"type":"text","text":")","font":"Liberation Serif","color":"black","fontSize":25,"angle":270,"align":"left","baseline":"alphabetic"},"encoding":{"x":{"datum":1.036,"axis":null},"y":{"datum":0.01755,"axis":null}}}
]},
{"width":289,"height":193,"resolve":{"axis":{"x":"independent","y":"independent"}},
"layer":[
{"data":{"name":"pts"},"transform":[{"filter":"datum.p=='d' && datum.s=='W'"}],"mark":{"type":"line","color":"black","strokeWidth":1.2},
"encoding":{"x":{"field":"x","type":"quantitative","scale":{"domain":[1.2,1.8],"nice":false,"zero":false},"axis":{"orient":"bottom","values":[1.2,1.3,1.4,1.5,1.6,1.7,1.8],"labelExpr":"round(datum.value*10)%2==0 ? format(datum.value,'.1f') : ''","tickSize":{"condition":{"test":"round(datum.value*10)%2==0","value":-10},"value":-6},"labelPadding":7,"labelFont":"Liberation Serif","labelFontSize":24,"labelFlush":false,"labelOverlap":false,"labelBound":false,"title":"position(mm)","titleFont":"Liberation Serif","titleFontSize":25,"titleFontWeight":"normal","titleBaseline":"alphabetic","titleY":51,"titleX":153}},
"y":{"field":"y","type":"quantitative","scale":{"domain":[-0.012,0.012],"nice":false,"zero":false},"axis":{"orient":"left","values":[-0.01,-0.005,0,0.005,0.01],"labelExpr":"datum.value > 0.007 ? '0.01' : datum.value < -0.007 ? '-0.01' : datum.value == 0 ? '0' : ''","tickSize":{"condition":{"test":"abs(datum.value) > 0.007 || datum.value == 0","value":-10},"value":-6},"labelPadding":6,"labelFont":"Liberation Serif","labelFontSize":24,"labelFlush":false,"labelOverlap":false,"labelBound":false,"title":null}}}},
{"data":{"name":"pts"},"transform":[{"filter":"datum.p=='d' && datum.s=='T'"}],"mark":{"type":"line","color":"#0000ff","strokeWidth":1.2},
"encoding":{"x":{"field":"x","type":"quantitative","scale":{"domain":[1.2,1.8],"nice":false,"zero":false},"axis":{"orient":"top","values":[1.2,1.3,1.4,1.5,1.6,1.7,1.8],"labels":false,"tickSize":{"condition":{"test":"round(datum.value*10)%2==0","value":-10},"value":-6},"title":null}},
"y":{"field":"y","type":"quantitative","scale":{"domain":[-0.012,0.012],"nice":false,"zero":false},"axis":{"orient":"right","values":[-0.01,-0.005,0,0.005,0.01],"labels":false,"tickSize":{"condition":{"test":"abs(datum.value) > 0.007 || datum.value == 0","value":-10},"value":-6},"title":null}}}},
{"data":{"name":"pts"},"transform":[{"filter":"datum.p=='d' && datum.s=='S'"}],"mark":{"type":"line","color":"black","strokeWidth":3,"strokeDash":[8,5]},"encoding":{"x":{"field":"x","type":"quantitative","axis":null},"y":{"field":"y","type":"quantitative","axis":null}}},
{"data":{"name":"pts"},"transform":[{"filter":"datum.p=='d' && datum.s=='C'"}],"mark":{"type":"line","color":"#1e8c1e","strokeWidth":1.5,"point":{"filled":true,"color":"#1e8c1e","opacity":1,"size":40}},"encoding":{"x":{"field":"x","type":"quantitative","axis":null},"y":{"field":"y","type":"quantitative","axis":null}}},
{"data":{"name":"pts"},"transform":[{"filter":"datum.p=='d' && datum.s=='R'"}],"mark":{"type":"line","color":"#1e8c1e","strokeWidth":1.5},"encoding":{"x":{"field":"x","type":"quantitative","axis":null},"y":{"field":"y","type":"quantitative","axis":null}}},
{"data":{"name":"pts"},"transform":[{"filter":"datum.p=='d' && datum.s=='R'"}],"mark":{"type":"point","shape":"circle","filled":true,"fill":"white","stroke":"#1e8c1e","strokeWidth":1.5,"opacity":1,"size":40},"encoding":{"x":{"field":"x","type":"quantitative","axis":null},"y":{"field":"y","type":"quantitative","axis":null}}},
{"data":{"values":[{}]},"mark":{"type":"text","text":"(d)","font":"Liberation Serif","color":"black","fontSize":25,"align":"center","baseline":"middle"},"encoding":{"x":{"datum":1.285,"axis":null},"y":{"datum":0.00802,"axis":null}}},
{"data":{"values":[{}]},"mark":{"type":"text","text":"as cut (29N3)","font":"Liberation Serif","color":"black","fontSize":14,"align":"left","baseline":"alphabetic"},"encoding":{"x":{"datum":1.528,"axis":null},"y":{"datum":0.00765,"axis":null}}},
{"data":{"values":[{}]},"mark":{"type":"rule","color":"black","strokeWidth":1.2},"encoding":{"x":{"datum":1.40,"axis":null},"y":{"datum":0.0087,"axis":null},"y2":{"datum":0.005}}},
{"data":{"values":[{}]},"mark":{"type":"point","shape":"M0,1L0.67,-1L-0.67,-1Z","filled":true,"color":"black","opacity":1,"size":225},"encoding":{"x":{"datum":1.40,"axis":null},"y":{"datum":0.00485,"axis":null}}}
]}
]
}
